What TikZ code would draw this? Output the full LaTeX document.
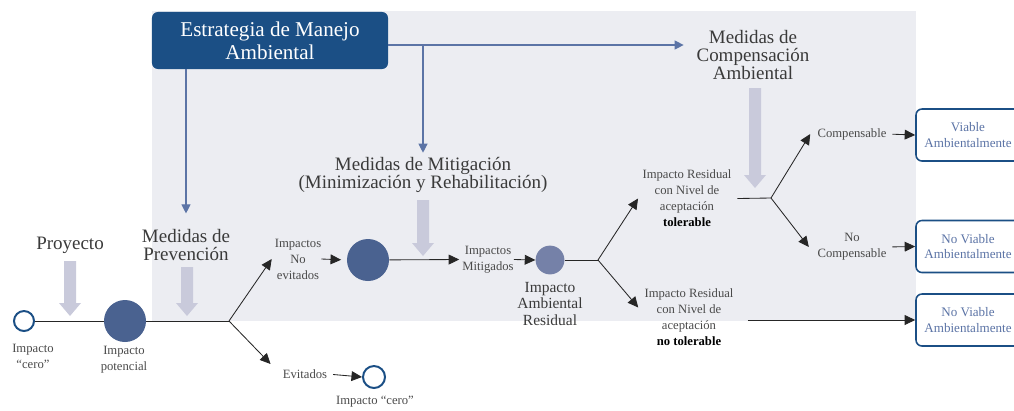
\documentclass[tikz,border=0pt]{standalone}
\usepackage{fontspec}
\setmainfont{Liberation Serif}
\usetikzlibrary{arrows.meta,calc}
\definecolor{navy}{HTML}{1B4F85}
\definecolor{steel}{HTML}{5C74A6}
\definecolor{dotblue}{HTML}{4A6290}
\definecolor{dotlight}{HTML}{7581A8}
\definecolor{pale}{HTML}{C9CADB}
\definecolor{bgbox}{HTML}{ECEDF2}
\definecolor{txtdark}{HTML}{3A3A3A}
\definecolor{txtgray}{HTML}{4A4A4A}
\newcommand\gdown[3]{\fill[pale] (#1-6,#2) -- (#1+6,#2) -- (#1+6,#3-13) -- (#1+11,#3-13) -- (#1,#3) -- (#1-11,#3-13) -- (#1-6,#3-13) -- cycle;}
\begin{document}
\begin{tikzpicture}[x=0.025cm,y=-0.025cm,
  lbl/.style={align=center,inner sep=0pt,text=txtdark,font=\fontsize{13.5}{13}\selectfont},
  sml/.style={align=center,inner sep=0pt,text=txtgray,font=\fontsize{9}{11.4}\selectfont},
  res/.style={draw=navy,line width=1.1pt,fill=white,rounded corners=0.15cm,minimum width=2.6cm,minimum height=1.3cm,align=center,text=steel,font=\fontsize{9.3}{10.7}\selectfont},
  dot/.style={circle,inner sep=0pt},
  arr/.style={draw=black!85,line width=0.6pt,-{Triangle[length=7.5pt,width=7pt]}},
  ln/.style={draw=black!85,line width=0.6pt},
  bl/.style={draw=steel,line width=0.8pt,-{Triangle[length=6.5pt,width=6.5pt]},shorten >=3pt}]
\useasboundingbox (0,0) rectangle (1014,410);
\clip (0,0) rectangle (1014,410);
\fill[bgbox] (152,11) rectangle (916,321);
\node[fill=navy,rounded corners=0.15cm,minimum width=5.9cm,minimum height=1.425cm,text=white,align=center,font=\fontsize{15}{16.5}\selectfont] (est) at (270,40.5) {Estrategia de Manejo\\Ambiental};
\node[lbl] (proy) at (70,245) {Proyecto};
\node[lbl] (prev) at (186,245) {Medidas de\\Prevención};
\node[lbl] (mit) at (423,175) {Medidas de Mitigación\\(Minimización y Rehabilitación)};
\node[lbl] (comp) at (753,55) {Medidas de\\Compensación\\Ambiental};
\gdown{70}{261}{316}
\gdown{187}{267}{316}
\gdown{423}{200}{256}
\gdown{755}{88}{188}
\node[dot,draw=navy,line width=1.4pt,fill=white,minimum size=0.5cm] (cero) at (24,321) {};
\node[dot,fill=dotblue,minimum size=1.05cm] (pot) at (125,321) {};
\node[dot,fill=dotblue,minimum size=1.05cm] (c2) at (368,260) {};
\node[dot,fill=dotlight,minimum size=0.72cm] (c3) at (550,260) {};
\node[dot,draw=navy,line width=1.4pt,fill=white,minimum size=0.55cm] (cero2) at (374,377) {};
\coordinate (b1) at (229,321);
\coordinate (b2) at (598,260);
\coordinate (b3) at (771,198);
\node[sml] (t1) at (33,356) {Impacto\\``cero''};
\node[sml] (t2) at (124,360) {Impacto\\potencial};
\node[sml] (noev) at (298,259) {Impactos\\No\\evitados};
\node[sml] (evit) at (305,374) {Evitados};
\node[sml] (t3) at (375,402) {Impacto ``cero''};
\node[sml] (mitig) at (488,259.5) {Impactos\\Mitigados};
\node[lbl,font=\fontsize{11}{11.5}\selectfont] (t4) at (550,304) {Impacto\\Ambiental\\Residual};
\node[sml] (tol) at (687,198.5) {Impacto Residual\\con Nivel de\\aceptación\\\textbf{\color{black}tolerable}};
\node[sml] (ntol) at (689,317.5) {Impacto Residual\\con Nivel de\\aceptación\\\textbf{\color{black}no tolerable}};
\node[sml] (cpn) at (852,134) {Compensable};
\node[sml] (ncpn) at (852,247) {No\\Compensable};
\node[res] (v1) at (968,135) {Viable\\Ambientalmente};
\node[res] (nv1) at (968,246.5) {No Viable\\Ambientalmente};
\node[res] (nv2) at (968,320) {No Viable\\Ambientalmente};
\draw[bl] ($(est.east)+(0,4.5)$) coordinate (e1) -- ([xshift=-6pt]comp.west |- e1);
\draw[bl] (mit.north |- e1) -- (mit.north);
\draw[bl,shorten >=11pt] (prev.north |- est.south) -- (prev.north);
\draw[ln] (cero) -- (pot);
\draw[ln] (pot) -- (b1);
\draw[arr] (b1) -- ([xshift=-2pt]noev.west);
\draw[arr] (b1) -- ([shift={(-12,-10)}]evit.west);
\draw[arr,shorten >=4pt] (noev.east) -- (c2.west);
\draw[arr] (c2) -- ([xshift=-2pt]mitig.west);
\draw[arr] (mitig.east) -- (c3.west);
\draw[ln] (c3) -- (b2);
\draw[arr] (b2) -- ([xshift=-3pt]tol.west);
\draw[arr] (b2) -- ([shift={(-6,-10)}]ntol.west);
\draw[ln] ([xshift=4pt]tol.east) -- (b3);
\draw[arr] (b3) -- ([xshift=-5pt]cpn.west);
\draw[arr] (b3) -- ([xshift=-6pt]ncpn.west);
\draw[arr,shorten <=4pt] (cpn.east) -- (v1.west);
\draw[arr,shorten <=4pt] (ncpn.east) -- (nv1.west);
\draw[arr] ([xshift=10pt]ntol.east |- nv2.west) -- (nv2.west);
\draw[arr,shorten <=4pt] (evit.east) -- (cero2.west);
\end{tikzpicture}
\end{document}
